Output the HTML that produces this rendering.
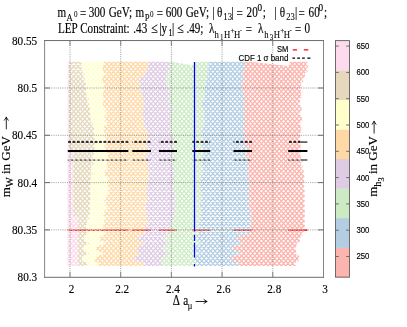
<!DOCTYPE html>
<html><head><meta charset="utf-8"><title>plot</title>
<style>html,body{margin:0;padding:0;background:#fff;}svg{display:block;}text{font-family:"Liberation Serif",serif;fill:#000;stroke:#000;stroke-width:0.16px;}.s{font-family:"Liberation Sans",sans-serif;}.t{stroke-width:0.1px;}</style></head><body>
<svg width="407" height="327" viewBox="0 0 407 327">
<rect width="407" height="327" fill="#fff"/>
<defs><clipPath id="dc"><path d="M67 61.6H171L192.5 65.4L194 61.6H249L288.5 66L290 61.6H312V268H67Z"/></clipPath>
<clipPath id="c_pink"><path d="M67.7 61.51L67.2 265.89L77.2 265.89L79 263.4L77.2 260.91L77.2 260.91L79 258.42L77.2 255.92L77.2 255.92L79 253.43L77.2 250.94L77.2 250.94L79 248.45L77.2 245.95L77.2 245.95L79 243.46L77.2 240.97L77.2 240.97L79 238.48L77.2 235.98L77.2 235.98L79 233.49L77.2 231L77.2 231L79 228.51L77.2 226.01L77.2 226.01L79 223.52L77.2 221.03L77.2 221.03L79 218.53L77.2 216.04L72.8 216.04L74.6 213.55L72.8 211.06L72.8 211.06L74.6 208.56L72.8 206.07L72.8 206.07L74.6 203.58L72.8 201.09L72.8 201.09L74.6 198.59L72.8 196.1L72.8 196.1L74.6 193.61L72.8 191.12L72.8 191.12L74.6 188.62L72.8 186.13L72.8 186.13L74.6 183.64L72.8 181.15L72.8 181.15L74.6 178.66L72.8 176.16L72.8 176.16L74.6 173.67L72.8 171.18L72.8 171.18L74.6 168.69L72.8 166.19L72.8 166.19L74.6 163.7L72.8 161.21L72.8 161.21L74.6 158.72L72.8 156.22L72.8 156.22L74.6 153.73L72.8 151.24L68.4 151.24L70.2 148.75L68.4 146.25L68.4 146.25L70.2 143.76L68.4 141.27L68.4 141.27L70.2 138.78L68.4 136.28L68.4 136.28L70.2 133.79L68.4 131.3L68.4 131.3L70.2 128.81L68.4 126.31L68.4 126.31L70.2 123.82L68.4 121.33L68.4 121.33L70.2 118.84L68.4 116.34L68.4 116.34L70.2 113.85L68.4 111.36L68.4 111.36L70.2 108.87L68.4 106.37L68.4 106.37L70.2 103.88L68.4 101.39L68.4 101.39L70.2 98.9L68.4 96.4L68.4 96.4L70.2 93.91L68.4 91.42L68.4 91.42L70.2 88.92L68.4 86.43L68.4 86.43L70.2 83.94L68.4 81.45L68.4 81.45L70.2 78.95L68.4 76.46L68.4 76.46L70.2 73.97L68.4 71.48L68.4 71.48L70.2 68.98L68.4 66.49L68.4 66.49L70.2 64L68.4 61.51Z"/></clipPath>
<clipPath id="c_tan"><path d="M68.4 61.51L70.2 64L68.4 66.49L68.4 66.49L70.2 68.98L68.4 71.48L68.4 71.48L70.2 73.97L68.4 76.46L68.4 76.46L70.2 78.95L68.4 81.45L68.4 81.45L70.2 83.94L68.4 86.43L68.4 86.43L70.2 88.92L68.4 91.42L68.4 91.42L70.2 93.91L68.4 96.4L68.4 96.4L70.2 98.9L68.4 101.39L68.4 101.39L70.2 103.88L68.4 106.37L68.4 106.37L70.2 108.87L68.4 111.36L68.4 111.36L70.2 113.85L68.4 116.34L68.4 116.34L70.2 118.84L68.4 121.33L68.4 121.33L70.2 123.82L68.4 126.31L68.4 126.31L70.2 128.81L68.4 131.3L68.4 131.3L70.2 133.79L68.4 136.28L68.4 136.28L70.2 138.78L68.4 141.27L68.4 141.27L70.2 143.76L68.4 146.25L68.4 146.25L70.2 148.75L68.4 151.24L72.8 151.24L74.6 153.73L72.8 156.22L72.8 156.22L74.6 158.72L72.8 161.21L72.8 161.21L74.6 163.7L72.8 166.19L72.8 166.19L74.6 168.69L72.8 171.18L72.8 171.18L74.6 173.67L72.8 176.16L72.8 176.16L74.6 178.66L72.8 181.15L72.8 181.15L74.6 183.64L72.8 186.13L72.8 186.13L74.6 188.62L72.8 191.12L72.8 191.12L74.6 193.61L72.8 196.1L72.8 196.1L74.6 198.59L72.8 201.09L72.8 201.09L74.6 203.58L72.8 206.07L72.8 206.07L74.6 208.56L72.8 211.06L72.8 211.06L74.6 213.55L72.8 216.04L77.2 216.04L79 218.53L77.2 221.03L77.2 221.03L79 223.52L77.2 226.01L77.2 226.01L79 228.51L77.2 231L77.2 231L79 233.49L77.2 235.98L77.2 235.98L79 238.48L77.2 240.97L77.2 240.97L79 243.46L77.2 245.95L77.2 245.95L79 248.45L77.2 250.94L77.2 250.94L79 253.43L77.2 255.92L77.2 255.92L79 258.42L77.2 260.91L77.2 260.91L79 263.4L77.2 265.89L86.04 265.89L88.84 263.4L82.43 260.91L81.62 258.42L82.8 255.92L89.59 253.43L83.77 250.94L83.55 248.45L83.74 245.95L89.53 243.46L84.22 240.97L84.51 238.48L84.01 235.98L89.11 233.49L85.47 231L87.44 228.51L85.29 226.01L88.75 223.52L86.31 221.03L89.46 218.53L87.33 216.04L90.8 213.55L88.17 211.06L91.14 208.56L88.16 206.07L90.78 203.58L88.57 201.09L91.96 198.59L88.96 196.1L91.55 193.61L88.76 191.12L91.58 188.62L88.95 186.13L91.91 183.64L89.36 181.15L92.41 178.66L90.16 176.16L93.51 173.67L90.29 171.18L92.67 168.69L90.69 166.19L94.32 163.7L91.31 161.21L93.9 158.72L91.42 156.22L94.54 153.73L92.19 151.24L95.44 148.75L92.61 146.25L95.38 143.76L92.49 141.27L95.2 138.78L92.24 136.28L94.89 133.79L92.15 131.3L95.01 128.81L91.5 126.31L93.59 123.82L90.12 121.33L92.26 118.84L89.01 116.34L91.37 113.85L88.39 111.36L91.01 108.87L87.51 106.37L89.6 103.88L86.69 101.39L89.39 98.9L85.85 96.4L87.9 93.91L84.89 91.42L87.47 88.92L84.36 86.43L86.85 83.94L83.29 81.45L85.33 78.95L82.51 76.46L85.28 73.97L81.7 71.48L83.72 68.98L80.61 66.49L83.1 64L80.3 61.51Z"/></clipPath>
<clipPath id="c_yellow"><path d="M80.3 61.51L83.1 64L80.61 66.49L83.72 68.98L81.7 71.48L85.28 73.97L82.51 76.46L85.33 78.95L83.29 81.45L86.85 83.94L84.36 86.43L87.47 88.92L84.89 91.42L87.9 93.91L85.85 96.4L89.39 98.9L86.69 101.39L89.6 103.88L87.51 106.37L91.01 108.87L88.39 111.36L91.37 113.85L89.01 116.34L92.26 118.84L90.12 121.33L93.59 123.82L91.5 126.31L95.01 128.81L92.15 131.3L94.89 133.79L92.24 136.28L95.2 138.78L92.49 141.27L95.38 143.76L92.61 146.25L95.44 148.75L92.19 151.24L94.54 153.73L91.42 156.22L93.9 158.72L91.31 161.21L94.32 163.7L90.69 166.19L92.67 168.69L90.29 171.18L93.51 173.67L90.16 176.16L92.41 178.66L89.36 181.15L91.91 183.64L88.95 186.13L91.58 188.62L88.76 191.12L91.55 193.61L88.96 196.1L91.96 198.59L88.57 201.09L90.78 203.58L88.16 206.07L91.14 208.56L88.17 211.06L90.8 213.55L87.33 216.04L89.46 218.53L86.31 221.03L88.75 223.52L85.29 226.01L87.44 228.51L85.47 231L89.11 233.49L84.01 235.98L84.51 238.48L84.22 240.97L89.53 243.46L83.74 245.95L83.55 248.45L83.77 250.94L89.59 253.43L82.8 255.92L81.62 258.42L82.43 260.91L88.84 263.4L86.04 265.89L96.56 265.89L99.36 263.4L94.45 260.91L95.14 258.42L97.26 255.92L104.98 253.43L97.16 250.94L94.95 248.45L98.1 245.95L106.85 243.46L100.13 240.97L99 238.48L100.38 235.98L107.35 233.49L102.89 231L104.03 228.51L101.76 226.01L105.1 223.52L103.22 221.03L106.94 218.53L103.01 216.04L104.68 213.55L103.79 211.06L108.5 208.56L104.99 206.07L107.08 203.58L104.04 201.09L106.6 198.59L105.34 196.1L109.69 193.61L107.4 191.12L110.72 188.62L106.99 186.13L108.87 183.64L106.22 181.15L109.18 178.66L104.5 176.16L105.41 173.67L104.21 171.18L108.61 168.69L105.19 166.19L107.37 163.7L105.8 161.21L109.82 158.72L106.62 156.22L109.02 153.73L104.98 151.24L106.55 148.75L103.93 146.25L106.92 143.76L104 141.27L106.67 138.78L104.03 136.28L106.99 133.79L103.13 131.3L104.86 128.81L103.63 126.31L108 123.82L104.36 121.33L106.31 118.84L104.05 116.34L107.38 113.85L104.31 111.36L106.84 108.87L102.26 106.37L103.27 103.88L101.63 101.39L105.59 98.9L101.75 96.4L103.51 93.91L102.3 91.42L106.7 88.92L102.85 86.43L104.6 83.94L100.85 81.45L102.7 78.95L102.18 76.46L107.25 73.97L102.38 71.48L103.1 68.98L101.4 66.49L105.3 64L102.5 61.51Z"/></clipPath>
<clipPath id="c_orange"><path d="M102.5 61.51L105.3 64L101.4 66.49L103.1 68.98L102.38 71.48L107.25 73.97L102.18 76.46L102.7 78.95L100.85 81.45L104.6 83.94L102.85 86.43L106.7 88.92L102.3 91.42L103.51 93.91L101.75 96.4L105.59 98.9L101.63 101.39L103.27 103.88L102.26 106.37L106.84 108.87L104.31 111.36L107.38 113.85L104.05 116.34L106.31 118.84L104.36 121.33L108 123.82L103.63 126.31L104.86 128.81L103.13 131.3L106.99 133.79L104.03 136.28L106.67 138.78L104 141.27L106.92 143.76L103.93 146.25L106.55 148.75L104.98 151.24L109.02 153.73L106.62 156.22L109.82 158.72L105.8 161.21L107.37 163.7L105.19 166.19L108.61 168.69L104.21 171.18L105.41 173.67L104.5 176.16L109.18 178.66L106.22 181.15L108.87 183.64L106.99 186.13L110.72 188.62L107.4 191.12L109.69 193.61L105.34 196.1L106.6 198.59L104.04 201.09L107.08 203.58L104.99 206.07L108.5 208.56L103.79 211.06L104.68 213.55L103.01 216.04L106.94 218.53L103.22 221.03L105.1 223.52L101.76 226.01L104.03 228.51L102.89 231L107.35 233.49L100.38 235.98L99 238.48L100.13 240.97L106.85 243.46L98.1 245.95L94.95 248.45L97.16 250.94L104.98 253.43L97.26 255.92L95.14 258.42L94.45 260.91L99.36 263.4L96.56 265.89L143.36 265.89L146.16 263.4L137.07 260.91L133.58 258.42L135.01 255.92L142.05 253.43L136.89 250.94L137.34 248.45L139.21 245.95L146.69 243.46L139.29 240.97L137.48 238.48L139.49 235.98L147.11 233.49L143.72 231L145.93 228.51L144.65 226.01L148.97 223.52L145.61 221.03L147.85 218.53L145.12 216.04L147.98 213.55L144.72 211.06L147.07 208.56L144.19 206.07L146.91 203.58L145.66 201.09L150 198.59L145.65 196.1L146.91 193.61L144.87 191.12L148.44 188.62L145.56 186.13L148.28 183.64L146.56 181.15L150.44 178.66L147.79 176.16L150.75 173.67L147.62 171.18L150.1 168.69L147.57 166.19L150.65 163.7L145.42 161.21L145.79 158.72L144.65 156.22L149.11 153.73L146 151.24L148.48 148.75L145.25 146.25L147.61 143.76L145.15 141.27L148.29 138.78L146.08 136.28L149.46 133.79L145.44 131.3L147.01 128.81L143.53 126.31L145.65 123.82L142.86 121.33L145.67 118.84L141.57 116.34L143.08 113.85L140.88 111.36L144.27 108.87L142.23 106.37L145.79 103.88L142.45 101.39L144.71 98.9L140.95 96.4L142.8 93.91L139.74 91.42L142.29 88.92L139.09 86.43L141.48 83.94L138.48 81.45L141.08 78.95L140.85 76.46L146.22 73.97L144.99 71.48L149.37 68.98L146.94 66.49L150.11 64L147.31 61.51Z"/></clipPath>
<clipPath id="c_purple"><path d="M147.31 61.51L150.11 64L146.94 66.49L149.37 68.98L144.99 71.48L146.22 73.97L140.85 76.46L141.08 78.95L138.48 81.45L141.48 83.94L139.09 86.43L142.29 88.92L139.74 91.42L142.8 93.91L140.95 96.4L144.71 98.9L142.45 101.39L145.79 103.88L142.23 106.37L144.27 108.87L140.88 111.36L143.08 113.85L141.57 116.34L145.67 118.84L142.86 121.33L145.65 123.82L143.53 126.31L147.01 128.81L145.44 131.3L149.46 133.79L146.08 136.28L148.29 138.78L145.15 141.27L147.61 143.76L145.25 146.25L148.48 148.75L146 151.24L149.11 153.73L144.65 156.22L145.79 158.72L145.42 161.21L150.65 163.7L147.57 166.19L150.1 168.69L147.62 171.18L150.75 173.67L147.79 176.16L150.44 178.66L146.56 181.15L148.28 183.64L145.56 186.13L148.44 188.62L144.87 191.12L146.91 193.61L145.65 196.1L150 198.59L145.66 201.09L146.91 203.58L144.19 206.07L147.07 208.56L144.72 211.06L147.98 213.55L145.12 216.04L147.85 218.53L145.61 221.03L148.97 223.52L144.65 226.01L145.93 228.51L143.72 231L147.11 233.49L139.49 235.98L137.48 238.48L139.29 240.97L146.69 243.46L139.21 245.95L137.34 248.45L136.89 250.94L142.05 253.43L135.01 255.92L133.58 258.42L137.07 260.91L146.16 263.4L143.36 265.89L161.88 265.89L164.68 263.4L160.13 260.91L161.18 258.42L163.57 255.92L171.56 253.43L164.29 250.94L162.61 248.45L163.86 245.95L170.7 243.46L164.23 240.97L163.36 238.48L164.81 235.98L171.85 233.49L169.15 231L172.05 228.51L169.57 226.01L172.69 223.52L170.98 221.03L174.88 218.53L172.47 216.04L175.67 213.55L173.13 211.06L176.18 208.56L173.7 206.07L176.81 203.58L174.12 201.09L177.04 198.59L173.86 196.1L176.28 193.61L172.44 191.12L174.2 188.62L171.47 186.13L174.34 183.64L172.16 181.15L175.58 178.66L172.32 176.16L174.65 173.67L172.16 171.18L175.27 168.69L171.43 166.19L173.19 163.7L170.64 161.21L173.68 158.72L170.63 156.22L173.18 153.73L170.98 151.24L174.38 148.75L171.75 146.25L174.71 143.76L172 141.27L174.88 138.78L171.26 136.28L173.24 133.79L169.55 131.3L171.45 128.81L169.41 126.31L172.97 123.82L169.46 121.33L171.56 118.84L169.3 116.34L172.64 113.85L170.44 111.36L173.85 108.87L169.44 106.37L170.63 103.88L167.72 101.39L170.42 98.9L168.36 96.4L171.9 93.91L167.87 91.42L169.44 88.92L166.44 86.43L169.03 83.94L165.77 81.45L168.11 78.95L165.71 76.46L168.92 73.97L167.18 71.48L171.05 68.98L168.65 66.49L171.85 64L169.05 61.51Z"/></clipPath>
<clipPath id="c_green"><path d="M169.05 61.51L171.85 64L168.65 66.49L171.05 68.98L167.18 71.48L168.92 73.97L165.71 76.46L168.11 78.95L165.77 81.45L169.03 83.94L166.44 86.43L169.44 88.92L167.87 91.42L171.9 93.91L168.36 96.4L170.42 98.9L167.72 101.39L170.63 103.88L169.44 106.37L173.85 108.87L170.44 111.36L172.64 113.85L169.3 116.34L171.56 118.84L169.46 121.33L172.97 123.82L169.41 126.31L171.45 128.81L169.55 131.3L173.24 133.79L171.26 136.28L174.88 138.78L172 141.27L174.71 143.76L171.75 146.25L174.38 148.75L170.98 151.24L173.18 153.73L170.63 156.22L173.68 158.72L170.64 161.21L173.19 163.7L171.43 166.19L175.27 168.69L172.16 171.18L174.65 173.67L172.32 176.16L175.58 178.66L172.16 181.15L174.34 183.64L171.47 186.13L174.2 188.62L172.44 191.12L176.28 193.61L173.86 196.1L177.04 198.59L174.12 201.09L176.81 203.58L173.7 206.07L176.18 208.56L173.13 211.06L175.67 213.55L172.47 216.04L174.88 218.53L170.98 221.03L172.69 223.52L169.57 226.01L172.05 228.51L169.15 231L171.85 233.49L164.81 235.98L163.36 238.48L164.23 240.97L170.7 243.46L163.86 245.95L162.61 248.45L164.29 250.94L171.56 253.43L163.57 255.92L161.18 258.42L160.13 260.91L164.68 263.4L161.88 265.89L195.75 265.89L198.55 263.4L193.84 260.91L194.74 258.42L194.78 255.92L200.43 253.43L194.88 250.94L194.92 248.45L195.63 245.95L201.95 243.46L197.26 240.97L198.18 238.48L196.16 235.98L199.74 233.49L197.2 231L200.26 228.51L197.34 226.01L200.02 223.52L197.88 221.03L201.33 218.53L199.22 216.04L202.7 213.55L199.82 211.06L202.54 208.56L198.81 206.07L200.69 203.58L199.06 201.09L203.04 198.59L200.52 196.1L203.59 193.61L199.71 191.12L201.42 188.62L198.7 186.13L201.58 183.64L198.97 181.15L201.95 178.66L200.08 176.16L203.81 173.67L201.4 171.18L204.6 168.69L200.97 166.19L202.94 163.7L200.17 161.21L203 158.72L201.18 156.22L204.95 153.73L201.96 151.24L204.56 148.75L201.09 146.25L203.22 143.76L201.23 141.27L204.84 138.78L201.15 136.28L203.05 133.79L200.79 131.3L204.13 128.81L201.77 126.31L205 123.82L202.25 121.33L205.1 118.84L202.51 116.34L205.51 113.85L202.31 111.36L204.71 108.87L201.05 106.37L202.99 103.88L201.59 101.39L205.78 98.9L203.01 96.4L205.83 93.91L203 91.42L205.78 88.92L203.81 86.43L207.45 83.94L205.13 81.45L208.41 78.95L205.83 76.46L208.84 73.97L206.03 71.48L208.81 68.98L206.66 66.49L210.1 64L207.3 61.51Z"/></clipPath>
<clipPath id="c_blue"><path d="M207.3 61.51L210.1 64L206.66 66.49L208.81 68.98L206.03 71.48L208.84 73.97L205.83 76.46L208.41 78.95L205.13 81.45L207.45 83.94L203.81 86.43L205.78 88.92L203 91.42L205.83 93.91L203.01 96.4L205.78 98.9L201.59 101.39L202.99 103.88L201.05 106.37L204.71 108.87L202.31 111.36L205.51 113.85L202.51 116.34L205.1 118.84L202.25 121.33L205 123.82L201.77 126.31L204.13 128.81L200.79 131.3L203.05 133.79L201.15 136.28L204.84 138.78L201.23 141.27L203.22 143.76L201.09 146.25L204.56 148.75L201.96 151.24L204.95 153.73L201.18 156.22L203 158.72L200.17 161.21L202.94 163.7L200.97 166.19L204.6 168.69L201.4 171.18L203.81 173.67L200.08 176.16L201.95 178.66L198.97 181.15L201.58 183.64L198.7 186.13L201.42 188.62L199.71 191.12L203.59 193.61L200.52 196.1L203.04 198.59L199.06 201.09L200.69 203.58L198.81 206.07L202.54 208.56L199.82 211.06L202.7 213.55L199.22 216.04L201.33 218.53L197.88 221.03L200.02 223.52L197.34 226.01L200.26 228.51L197.2 231L199.74 233.49L196.16 235.98L198.18 238.48L197.26 240.97L201.95 243.46L195.63 245.95L194.92 248.45L194.88 250.94L200.43 253.43L194.78 255.92L194.74 258.42L193.84 260.91L198.55 263.4L195.75 265.89L237.47 265.89L240.27 263.4L232.63 260.91L230.59 258.42L233.99 255.92L243 253.43L235.08 250.94L232.76 248.45L235.84 245.95L244.51 243.46L237.76 240.97L236.61 238.48L241.51 235.98L252 233.49L249.02 231L251.63 228.51L249.56 226.01L253.09 223.52L249.97 221.03L252.44 218.53L249.89 216.04L252.94 213.55L249.03 211.06L250.71 208.56L247.64 206.07L250.17 203.58L247.8 201.09L251.04 198.59L247.29 196.1L249.14 193.61L247.43 191.12L251.32 188.62L247.98 186.13L250.24 183.64L247.24 181.15L249.85 178.66L246.58 176.16L248.91 173.67L246.4 171.18L249.49 168.69L246.87 166.19L249.85 163.7L246.47 161.21L248.69 158.72L245.19 156.22L247.29 153.73L245.37 151.24L249.05 148.75L244.57 146.25L245.69 143.76L242.96 141.27L245.84 138.78L243.25 136.28L246.26 133.79L242.49 131.3L244.31 128.81L242.3 126.31L245.89 123.82L242.98 121.33L245.68 118.84L242.7 116.34L245.33 113.85L243.16 111.36L246.59 108.87L242.77 106.37L244.56 103.88L242.51 101.39L246.06 98.9L242.57 96.4L244.67 93.91L241.52 91.42L243.98 88.92L240.87 86.43L243.36 83.94L241.58 81.45L245.39 78.95L241.7 76.46L243.61 73.97L241.84 71.48L245.67 68.98L243.1 66.49L246.12 64L243.32 61.51Z"/></clipPath>
<clipPath id="c_red"><path d="M243.32 61.51L246.12 64L243.1 66.49L245.67 68.98L241.84 71.48L243.61 73.97L241.7 76.46L245.39 78.95L241.58 81.45L243.36 83.94L240.87 86.43L243.98 88.92L241.52 91.42L244.67 93.91L242.57 96.4L246.06 98.9L242.51 101.39L244.56 103.88L242.77 106.37L246.59 108.87L243.16 111.36L245.33 113.85L242.7 116.34L245.68 118.84L242.98 121.33L245.89 123.82L242.3 126.31L244.31 128.81L242.49 131.3L246.26 133.79L243.25 136.28L245.84 138.78L242.96 141.27L245.69 143.76L244.57 146.25L249.05 148.75L245.37 151.24L247.29 153.73L245.19 156.22L248.69 158.72L246.47 161.21L249.85 163.7L246.87 166.19L249.49 168.69L246.4 171.18L248.91 173.67L246.58 176.16L249.85 178.66L247.24 181.15L250.24 183.64L247.98 186.13L251.32 188.62L247.43 191.12L249.14 193.61L247.29 196.1L251.04 198.59L247.8 201.09L250.17 203.58L247.64 206.07L250.71 208.56L249.03 211.06L252.94 213.55L249.89 216.04L252.44 218.53L249.97 221.03L253.09 223.52L249.56 226.01L251.63 228.51L249.02 231L252 233.49L241.51 235.98L236.61 238.48L237.76 240.97L244.51 243.46L235.84 245.95L232.76 248.45L235.08 250.94L243 253.43L233.99 255.92L230.59 258.42L232.63 260.91L240.27 263.4L237.47 265.89L296.46 265.89L293.66 263.4L298.75 260.91L298.24 258.42L299.45 255.92L295.05 253.43L297.28 250.94L293.91 248.45L297.79 245.95L296.07 243.46L300.29 240.97L298.9 238.48L302.78 235.98L301.07 233.49L304.61 231L302.54 228.51L305.71 226.01L303.28 223.52L305.65 221.03L302.41 218.53L305.76 216.04L303.52 213.55L305.99 211.06L302.85 208.56L305.55 206.07L302.64 203.58L305.55 201.09L302.85 198.59L305.74 196.1L303.02 193.61L305.57 191.12L302.52 188.62L304.92 186.13L301.73 183.64L304.86 181.15L302.4 178.66L305.07 176.16L302.15 173.67L304.3 171.18L300.85 168.69L303.32 166.19L300.19 163.7L303.17 161.21L300.55 158.72L302.5 156.22L298.85 153.73L302.05 151.24L299.65 148.75L302.38 146.25L299.51 143.76L301.72 141.27L298.33 138.78L301.57 136.28L299.21 133.79L302.6 131.3L300.39 128.81L302.06 126.31L298.14 123.82L302.67 121.33L301.6 118.84L302.44 116.34L297.67 113.85L302.28 111.36L301.29 108.87L302.17 106.37L297.45 103.88L301.13 101.39L299.22 98.9L302.6 96.4L300.39 93.91L302.86 91.42L299.72 88.92L302.72 86.43L300.11 83.94L303.57 81.45L301.44 78.95L305.69 76.46L304.35 73.97L307.9 71.48L305.85 68.98L308.54 66.49L305.63 64L308.43 61.51Z"/></clipPath>
<path id="lat" d="M-120.68 61.51l181.14 204.39M-116.27 61.51l181.14 204.39M-111.85 61.51l181.14 204.39M-107.43 61.51l181.14 204.39M-103.01 61.51l181.14 204.39M-98.59 61.51l181.14 204.39M-94.18 61.51l181.14 204.39M-89.76 61.51l181.14 204.39M-85.34 61.51l181.14 204.39M-80.92 61.51l181.14 204.39M-76.5 61.51l181.14 204.39M-72.09 61.51l181.14 204.39M-67.67 61.51l181.14 204.39M-63.25 61.51l181.14 204.39M-58.83 61.51l181.14 204.39M-54.41 61.51l181.14 204.39M-50 61.51l181.14 204.39M-45.58 61.51l181.14 204.39M-41.16 61.51l181.14 204.39M-36.74 61.51l181.14 204.39M-32.32 61.51l181.14 204.39M-27.9 61.51l181.14 204.39M-23.49 61.51l181.14 204.39M-19.07 61.51l181.14 204.39M-14.65 61.51l181.14 204.39M-10.23 61.51l181.14 204.39M-5.82 61.51l181.14 204.39M-1.4 61.51l181.14 204.39M3.02 61.51l181.14 204.39M7.44 61.51l181.14 204.39M11.86 61.51l181.14 204.39M16.27 61.51l181.14 204.39M20.69 61.51l181.14 204.39M25.11 61.51l181.14 204.39M29.53 61.51l181.14 204.39M33.95 61.51l181.14 204.39M38.36 61.51l181.14 204.39M42.78 61.51l181.14 204.39M47.2 61.51l181.14 204.39M51.62 61.51l181.14 204.39M56.04 61.51l181.14 204.39M60.45 61.51l181.14 204.39M60.45 61.51l-181.14 204.39M64.87 61.51l181.14 204.39M64.87 61.51l-181.14 204.39M69.29 61.51l181.14 204.39M69.29 61.51l-181.14 204.39M73.71 61.51l181.14 204.39M73.71 61.51l-181.14 204.39M78.13 61.51l181.14 204.39M78.13 61.51l-181.14 204.39M82.55 61.51l181.14 204.39M82.55 61.51l-181.14 204.39M86.96 61.51l181.14 204.39M86.96 61.51l-181.14 204.39M91.38 61.51l181.14 204.39M91.38 61.51l-181.14 204.39M95.8 61.51l181.14 204.39M95.8 61.51l-181.14 204.39M100.22 61.51l181.14 204.39M100.22 61.51l-181.14 204.39M104.63 61.51l181.14 204.39M104.63 61.51l-181.14 204.39M109.05 61.51l181.14 204.39M109.05 61.51l-181.14 204.39M113.47 61.51l181.14 204.39M113.47 61.51l-181.14 204.39M117.89 61.51l181.14 204.39M117.89 61.51l-181.14 204.39M122.31 61.51l181.14 204.39M122.31 61.51l-181.14 204.39M126.72 61.51l181.14 204.39M126.72 61.51l-181.14 204.39M131.14 61.51l181.14 204.39M131.14 61.51l-181.14 204.39M135.56 61.51l181.14 204.39M135.56 61.51l-181.14 204.39M139.98 61.51l181.14 204.39M139.98 61.51l-181.14 204.39M144.4 61.51l181.14 204.39M144.4 61.51l-181.14 204.39M148.81 61.51l181.14 204.39M148.81 61.51l-181.14 204.39M153.23 61.51l181.14 204.39M153.23 61.51l-181.14 204.39M157.65 61.51l181.14 204.39M157.65 61.51l-181.14 204.39M162.07 61.51l181.14 204.39M162.07 61.51l-181.14 204.39M166.49 61.51l181.14 204.39M166.49 61.51l-181.14 204.39M170.91 61.51l181.14 204.39M170.91 61.51l-181.14 204.39M175.32 61.51l181.14 204.39M175.32 61.51l-181.14 204.39M179.74 61.51l181.14 204.39M179.74 61.51l-181.14 204.39M184.16 61.51l181.14 204.39M184.16 61.51l-181.14 204.39M188.58 61.51l181.14 204.39M188.58 61.51l-181.14 204.39M193 61.51l181.14 204.39M193 61.51l-181.14 204.39M197.41 61.51l181.14 204.39M197.41 61.51l-181.14 204.39M201.83 61.51l181.14 204.39M201.83 61.51l-181.14 204.39M206.25 61.51l181.14 204.39M206.25 61.51l-181.14 204.39M210.67 61.51l181.14 204.39M210.67 61.51l-181.14 204.39M215.09 61.51l181.14 204.39M215.09 61.51l-181.14 204.39M219.5 61.51l181.14 204.39M219.5 61.51l-181.14 204.39M223.92 61.51l181.14 204.39M223.92 61.51l-181.14 204.39M228.34 61.51l181.14 204.39M228.34 61.51l-181.14 204.39M232.76 61.51l181.14 204.39M232.76 61.51l-181.14 204.39M237.18 61.51l181.14 204.39M237.18 61.51l-181.14 204.39M241.59 61.51l181.14 204.39M241.59 61.51l-181.14 204.39M246.01 61.51l181.14 204.39M246.01 61.51l-181.14 204.39M250.43 61.51l181.14 204.39M250.43 61.51l-181.14 204.39M254.85 61.51l181.14 204.39M254.85 61.51l-181.14 204.39M259.27 61.51l181.14 204.39M259.27 61.51l-181.14 204.39M263.68 61.51l181.14 204.39M263.68 61.51l-181.14 204.39M268.1 61.51l181.14 204.39M268.1 61.51l-181.14 204.39M272.52 61.51l181.14 204.39M272.52 61.51l-181.14 204.39M276.94 61.51l181.14 204.39M276.94 61.51l-181.14 204.39M281.36 61.51l181.14 204.39M281.36 61.51l-181.14 204.39M285.77 61.51l181.14 204.39M285.77 61.51l-181.14 204.39M290.19 61.51l181.14 204.39M290.19 61.51l-181.14 204.39M294.61 61.51l181.14 204.39M294.61 61.51l-181.14 204.39M299.03 61.51l181.14 204.39M299.03 61.51l-181.14 204.39M303.44 61.51l181.14 204.39M303.44 61.51l-181.14 204.39M307.86 61.51l181.14 204.39M307.86 61.51l-181.14 204.39M312.28 61.51l181.14 204.39M312.28 61.51l-181.14 204.39M316.7 61.51l-181.14 204.39M321.12 61.51l-181.14 204.39M325.54 61.51l-181.14 204.39M329.95 61.51l-181.14 204.39M334.37 61.51l-181.14 204.39M338.79 61.51l-181.14 204.39M343.21 61.51l-181.14 204.39M347.62 61.51l-181.14 204.39M352.04 61.51l-181.14 204.39M356.46 61.51l-181.14 204.39M360.88 61.51l-181.14 204.39M365.3 61.51l-181.14 204.39M369.72 61.51l-181.14 204.39M374.13 61.51l-181.14 204.39M378.55 61.51l-181.14 204.39M382.97 61.51l-181.14 204.39M387.39 61.51l-181.14 204.39M391.81 61.51l-181.14 204.39M396.22 61.51l-181.14 204.39M400.64 61.51l-181.14 204.39M405.06 61.51l-181.14 204.39M409.48 61.51l-181.14 204.39M413.89 61.51l-181.14 204.39M418.31 61.51l-181.14 204.39M422.73 61.51l-181.14 204.39M427.15 61.51l-181.14 204.39M431.57 61.51l-181.14 204.39M435.99 61.51l-181.14 204.39M440.4 61.51l-181.14 204.39M444.82 61.51l-181.14 204.39M449.24 61.51l-181.14 204.39M453.66 61.51l-181.14 204.39M458.07 61.51l-181.14 204.39M462.49 61.51l-181.14 204.39M466.91 61.51l-181.14 204.39M471.33 61.51l-181.14 204.39M475.75 61.51l-181.14 204.39M480.17 61.51l-181.14 204.39M484.58 61.51l-181.14 204.39M489 61.51l-181.14 204.39M493.42 61.51l-181.14 204.39"/>
</defs>
<path stroke="#f00" stroke-width="1.25" fill="none" d="M67.8 230.1H128.4M132.3 230.1H151M158.9 230.1H177M192.3 230.1H210.2M233.5 230.1H252.1M288.2 230.1H307.4"/>
<g clip-path="url(#dc)" fill="none" stroke-width="1.3">
<g clip-path="url(#c_pink)"><use href="#lat" stroke="#fddaec"/></g>
<g clip-path="url(#c_tan)"><use href="#lat" stroke="#e5d8bd"/></g>
<g clip-path="url(#c_yellow)"><use href="#lat" stroke="#ffffcc"/></g>
<g clip-path="url(#c_orange)"><use href="#lat" stroke="#fed9a6"/></g>
<g clip-path="url(#c_purple)"><use href="#lat" stroke="#decbe4"/></g>
<g clip-path="url(#c_green)"><use href="#lat" stroke="#ccebc5"/></g>
<g clip-path="url(#c_blue)"><use href="#lat" stroke="#b3cde3"/></g>
<g clip-path="url(#c_red)"><use href="#lat" stroke="#fbb4ae"/></g>
</g>
<g stroke="#6a6a6a" stroke-width="0.6" stroke-dasharray="1.1 1.13" fill="none">
<path d="M70 40.55V277.3"/>
<path d="M120.69 40.55V277.3"/>
<path d="M171.38 40.55V277.3"/>
<path d="M222.07 40.55V277.3"/>
<path d="M272.76 40.55V277.3"/>
<path d="M44.6 88H323.5"/>
<path d="M44.6 135.3H323.5"/>
<path d="M44.6 182.6H323.5"/>
<path d="M44.6 229.9H323.5"/>
</g>
<path stroke="#f00" stroke-opacity=".45" stroke-width="0.9" fill="none" d="M67.8 230.1H128.4M132.3 230.1H151M158.9 230.1H177M192.3 230.1H210.2M233.5 230.1H252.1M288.2 230.1H307.4"/>
<g stroke="#000" fill="none">
<path stroke-width="1.5" stroke-dasharray="2.9 1.52" stroke-dashoffset="4.17" d="M67.8 142.05H128.4"/>
<path stroke-width="0.5" stroke-dasharray="1 3.42" stroke-dashoffset="3.22" d="M67.8 141.2H128.4"/>
<path stroke-width="0.85" stroke-dasharray="1.8 2.62" stroke-dashoffset="1.02" d="M67.8 160.1H128.4"/>
<path stroke-width="0.7" stroke-opacity=".3" d="M67.8 160.1H128.4"/>
<path stroke-width="1.5" stroke-dasharray="2.9 1.52" stroke-dashoffset="2.4" d="M132.3 142.05H151"/>
<path stroke-width="0.5" stroke-dasharray="1 3.42" stroke-dashoffset="1.45" d="M132.3 141.2H151"/>
<path stroke-width="0.85" stroke-dasharray="1.8 2.62" stroke-dashoffset="3.67" d="M132.3 160.1H151"/>
<path stroke-width="0.7" stroke-opacity=".3" d="M132.3 160.1H151"/>
<path stroke-width="1.5" stroke-dasharray="2.9 1.52" stroke-dashoffset="2.49" d="M158.9 142.05H177"/>
<path stroke-width="0.5" stroke-dasharray="1 3.42" stroke-dashoffset="1.54" d="M158.9 141.2H177"/>
<path stroke-width="0.85" stroke-dasharray="1.8 2.62" stroke-dashoffset="3.76" d="M158.9 160.1H177"/>
<path stroke-width="0.7" stroke-opacity=".3" d="M158.9 160.1H177"/>
<path stroke-width="1.5" stroke-dasharray="2.9 1.52" stroke-dashoffset=".55" d="M192.3 142.05H210.2"/>
<path stroke-width="0.5" stroke-dasharray="1 3.42" stroke-dashoffset="4.01" d="M192.3 141.2H210.2"/>
<path stroke-width="0.85" stroke-dasharray="1.8 2.62" stroke-dashoffset="1.81" d="M192.3 160.1H210.2"/>
<path stroke-width="0.7" stroke-opacity=".3" d="M192.3 160.1H210.2"/>
<path stroke-width="1.5" stroke-dasharray="2.9 1.52" stroke-dashoffset="1.98" d="M233.5 142.05H252.1"/>
<path stroke-width="0.5" stroke-dasharray="1 3.42" stroke-dashoffset="1.03" d="M233.5 141.2H252.1"/>
<path stroke-width="0.85" stroke-dasharray="1.8 2.62" stroke-dashoffset="3.25" d="M233.5 160.1H252.1"/>
<path stroke-width="0.7" stroke-opacity=".3" d="M233.5 160.1H252.1"/>
<path stroke-width="1.5" stroke-dasharray="2.9 1.52" stroke-dashoffset="3.67" d="M288.2 142.05H301"/>
<path stroke-width="0.5" stroke-dasharray="1 3.42" stroke-dashoffset="2.72" d="M288.2 141.2H301"/>
<path stroke-width="0.85" stroke-dasharray="1.8 2.62" stroke-dashoffset=".52" d="M288.2 160.1H301"/>
<path stroke-width="0.7" stroke-opacity=".3" d="M288.2 160.1H301"/>
<path stroke-width="1.1" d="M301 142.05H307.4"/>
<path stroke-width="1" d="M301 160.0H307.4"/>
</g>
<path stroke="#000" stroke-width="1.9" fill="none" d="M67.8 150.95H128.4M132.3 150.95H151M158.9 150.95H177M192.3 150.95H210.2M233.5 150.95H252.1M288.2 150.95H307.4"/>
<path stroke="#00f" stroke-width="1.25" fill="none" d="M194.5 62V231.4M194.5 234.7V241.1M194.5 242.8V257.6M194.5 264.1V266.4"/>
<path fill="none" stroke="#858585" stroke-width="1" d="M44.6 40.05V277.8M323.5 40.05V277.8M70 277.3v-5.4M70 40.55v5.4M120.69 277.3v-5.4M120.69 40.55v5.4M171.38 277.3v-5.4M171.38 40.55v5.4M222.07 277.3v-5.4M222.07 40.55v5.4M272.76 277.3v-5.4M272.76 40.55v5.4"/>
<path fill="none" stroke="#6c6c6c" stroke-width="1" d="M44.1 40.55H324M44.1 277.3H324M44.6 88h5.4M323.5 88h-5.4M44.6 135.3h5.4M323.5 135.3h-5.4M44.6 182.6h5.4M323.5 182.6h-5.4M44.6 229.9h5.4M323.5 229.9h-5.4"/>
<rect x="335.5" y="247.58" width="14" height="29.87" fill="#fbb4ae"/>
<rect x="335.5" y="218.01" width="14" height="29.87" fill="#b3cde3"/>
<rect x="335.5" y="188.44" width="14" height="29.87" fill="#ccebc5"/>
<rect x="335.5" y="158.87" width="14" height="29.87" fill="#decbe4"/>
<rect x="335.5" y="129.31" width="14" height="29.87" fill="#fed9a6"/>
<rect x="335.5" y="99.74" width="14" height="29.87" fill="#ffffcc"/>
<rect x="335.5" y="70.17" width="14" height="29.87" fill="#e5d8bd"/>
<rect x="335.5" y="40.6" width="14" height="29.87" fill="#fddaec"/>
<g stroke="#6a6464" stroke-width="0.95" fill="none">
<rect x="335.5" y="40.6" width="14" height="236.55"/>
<path d="M335.5 256.5h3.3M349.5 256.5h-3.3M335.5 230.2h3.3M349.5 230.2h-3.3M335.5 203.9h3.3M349.5 203.9h-3.3M335.5 177.6h3.3M349.5 177.6h-3.3M335.5 151.3h3.3M349.5 151.3h-3.3M335.5 125h3.3M349.5 125h-3.3M335.5 98.7h3.3M349.5 98.7h-3.3M335.5 72.4h3.3M349.5 72.4h-3.3M335.5 46.1h3.3M349.5 46.1h-3.3"/>
</g>
<g opacity=".999">
<text transform="translate(356.4 259.45) scale(.84 1)" font-size="9.3" class="s">250</text>
<text transform="translate(356.4 233.15) scale(.84 1)" font-size="9.3" class="s">300</text>
<text transform="translate(356.4 206.85) scale(.84 1)" font-size="9.3" class="s">350</text>
<text transform="translate(356.4 180.55) scale(.84 1)" font-size="9.3" class="s">400</text>
<text transform="translate(356.4 154.25) scale(.84 1)" font-size="9.3" class="s">450</text>
<text transform="translate(356.4 127.95) scale(.84 1)" font-size="9.3" class="s">500</text>
<text transform="translate(356.4 101.65) scale(.84 1)" font-size="9.3" class="s">550</text>
<text transform="translate(356.4 75.35) scale(.84 1)" font-size="9.3" class="s">600</text>
<text transform="translate(356.4 49.05) scale(.84 1)" font-size="9.3" class="s">650</text>
<text transform="translate(37.2 44.6) scale(.83 1)" font-size="13.5" text-anchor="end">80.55</text>
<text transform="translate(37.2 91.9) scale(.83 1)" font-size="13.5" text-anchor="end">80.5</text>
<text transform="translate(37.2 139.2) scale(.83 1)" font-size="13.5" text-anchor="end">80.45</text>
<text transform="translate(37.2 186.5) scale(.83 1)" font-size="13.5" text-anchor="end">80.4</text>
<text transform="translate(37.2 233.8) scale(.83 1)" font-size="13.5" text-anchor="end">80.35</text>
<text transform="translate(37.2 281.1) scale(.83 1)" font-size="13.5" text-anchor="end">80.3</text>
<text transform="translate(71.5 292.7) scale(.83 1)" font-size="13.5" text-anchor="middle">2</text>
<text transform="translate(122.19 292.7) scale(.83 1)" font-size="13.5" text-anchor="middle">2.2</text>
<text transform="translate(172.88 292.7) scale(.83 1)" font-size="13.5" text-anchor="middle">2.4</text>
<text transform="translate(223.57 292.7) scale(.83 1)" font-size="13.5" text-anchor="middle">2.6</text>
<text transform="translate(274.26 292.7) scale(.83 1)" font-size="13.5" text-anchor="middle">2.8</text>
<text transform="translate(324.95 292.7) scale(.83 1)" font-size="13.5" text-anchor="middle">3</text>
<text transform="translate(172.7 305.3) scale(.82 1)" font-size="13.6">&#916;</text>
<text transform="translate(183.2 305.3) scale(.82 1)" font-size="13.6">a</text>
<text transform="translate(187.7 308.6) scale(.82 1)" font-size="10.4" class="t">&#956;</text>
<path fill="none" stroke="#000" stroke-width=".85" stroke-linecap="round" stroke-linejoin="round" d="M196 301.5L207 301.5M204 303.4L207 301.5L204 299.6"/>
<text transform="translate(9.6 197.2) rotate(-90) scale(1 .92)" font-size="13">m<tspan font-size="10.4" dy="3.6">W</tspan><tspan dy="-3.6"> in GeV</tspan></text>
<path fill="none" stroke="#000" stroke-width=".85" stroke-linecap="round" stroke-linejoin="round" d="M6.3 129L6.3 117.2M8.2 120.2L6.3 117.2L4.4 120.2"/>
<text transform="translate(377.3 196.8) rotate(-90) scale(1 .92)" font-size="13">m<tspan font-size="10.4" dy="4.4">h</tspan><tspan font-size="8.3" dy="2.8">3</tspan><tspan dy="-7.2"> in GeV</tspan></text>
<path fill="none" stroke="#000" stroke-width=".85" stroke-linecap="round" stroke-linejoin="round" d="M374.1 133.2L374.1 121.3M376 124.3L374.1 121.3L372.2 124.3"/>
<text transform="translate(288.3 52.4) scale(.84 1)" font-size="9" class="s" text-anchor="end">SM</text>
<text transform="translate(288.3 61) scale(.88 1)" font-size="9" class="s" text-anchor="end">CDF 1 &#963; band</text>
<path stroke="#f00" stroke-width="1.3" fill="none" d="M292.8 49.8H297M303.8 49.8H308.3"/>
<path stroke="#000" stroke-width="1.2" fill="none" d="M292.4 58.1H295.1M297.2 58.1H300M302.1 58.1H304.8M307.3 58.1H310.4"/>
<text transform="translate(57.6 16.6) scale(.82 1)" font-size="13.6">m</text>
<text transform="translate(66.5 21.2) scale(.82 1)" font-size="10.6" class="t">A</text>
<text transform="translate(74 16.6) scale(.82 1)" font-size="8.6" class="t">0</text>
<text transform="translate(80.1 18.3) scale(.82 1)" font-size="13.6">=</text>
<text transform="translate(88.7 16.6) scale(.82 1)" font-size="13.6">300</text>
<text transform="translate(108.7 16.6) scale(.82 1)" font-size="13.6">GeV;</text>
<text transform="translate(135.5 16.6) scale(.82 1)" font-size="13.6">m</text>
<text transform="translate(144.7 21.2) scale(.82 1)" font-size="10.6" class="t">P</text>
<text transform="translate(150 16.6) scale(.82 1)" font-size="8.6" class="t">0</text>
<text transform="translate(156.7 18.3) scale(.82 1)" font-size="13.6">=</text>
<text transform="translate(165.7 16.6) scale(.82 1)" font-size="13.6">600</text>
<text transform="translate(185.8 16.6) scale(.82 1)" font-size="13.6">GeV;</text>
<text transform="translate(212.3 16.6) scale(.82 1)" font-size="13.6">|</text>
<text transform="translate(217 16.6) scale(.82 1)" font-size="13.6">&#952;</text>
<text transform="translate(223.3 20) scale(.82 1)" font-size="10.6" class="t">13</text>
<text transform="translate(231.6 16.6) scale(.82 1)" font-size="13.6">|</text>
<text transform="translate(236.4 18.3) scale(.82 1)" font-size="13.6">=</text>
<text transform="translate(246.6 16.6) scale(.82 1)" font-size="13.6">20</text>
<text transform="translate(257.6 10.5) scale(.82 1)" font-size="11.2">0</text>
<text transform="translate(262.7 16.6) scale(.82 1)" font-size="13.6">;</text>
<text transform="translate(274.4 16.6) scale(.82 1)" font-size="13.6">|</text>
<text transform="translate(279.7 16.6) scale(.82 1)" font-size="13.6">&#952;</text>
<text transform="translate(286.2 20) scale(.82 1)" font-size="10.6" class="t">23</text>
<text transform="translate(295.1 16.6) scale(.82 1)" font-size="13.6">|</text>
<text transform="translate(298.6 18.3) scale(.82 1)" font-size="13.6">=</text>
<text transform="translate(308.6 16.6) scale(.82 1)" font-size="13.6">60</text>
<text transform="translate(318.6 10.5) scale(.82 1)" font-size="11.2">0</text>
<text transform="translate(324 16.6) scale(.82 1)" font-size="13.6">;</text>
<text transform="translate(58 32.7) scale(.82 1)" font-size="13.6">LEP Constraint:</text>
<text transform="translate(133.3 32.7) scale(.82 1)" font-size="13.6">.43</text>
<text transform="translate(150.9 32.7) scale(.82 1)" font-size="14.69">&#8804;</text>
<text transform="translate(159.6 32.7) scale(.82 1)" font-size="13.6">|</text>
<text transform="translate(161.6 32.7) scale(.82 1)" font-size="13.6">y</text>
<text transform="translate(168.3 36.1) scale(.82 1)" font-size="10.6" class="t">1</text>
<text transform="translate(172.1 32.7) scale(.82 1)" font-size="13.6">|</text>
<text transform="translate(177 32.7) scale(.82 1)" font-size="14.69">&#8804;</text>
<text transform="translate(186.4 32.7) scale(.82 1)" font-size="13.6">.49;</text>
<text transform="translate(209.1 32.7) scale(.82 1)" font-size="13.6">&#955;</text>
<text transform="translate(214.4 37.5) scale(.82 1)" font-size="10.6" class="t">h</text>
<text transform="translate(220 39.9) scale(.82 1)" font-size="8.6" class="t">1</text>
<text transform="translate(224 37.5) scale(.82 1)" font-size="10.6" class="t">H</text>
<text transform="translate(230.4 32.9) scale(.82 1)" font-size="8.6" class="t">+</text>
<text transform="translate(233.9 37.5) scale(.82 1)" font-size="10.6" class="t">H</text>
<text transform="translate(239.8 33.3) scale(.82 1)" font-size="8.6" class="t">-</text>
<text transform="translate(245.7 34.4) scale(.82 1)" font-size="13.6">=</text>
<text transform="translate(258.1 32.7) scale(.82 1)" font-size="13.6">&#955;</text>
<text transform="translate(264.2 37.5) scale(.82 1)" font-size="10.6" class="t">h</text>
<text transform="translate(269.8 39.9) scale(.82 1)" font-size="8.6" class="t">3</text>
<text transform="translate(273.8 37.5) scale(.82 1)" font-size="10.6" class="t">H</text>
<text transform="translate(280.2 32.9) scale(.82 1)" font-size="8.6" class="t">+</text>
<text transform="translate(283.7 37.5) scale(.82 1)" font-size="10.6" class="t">H</text>
<text transform="translate(289.6 33.3) scale(.82 1)" font-size="8.6" class="t">-</text>
<text transform="translate(295.1 34.4) scale(.82 1)" font-size="13.6">=</text>
<text transform="translate(304.6 32.7) scale(.82 1)" font-size="13.6">0</text>
</g>
</svg></body></html>
